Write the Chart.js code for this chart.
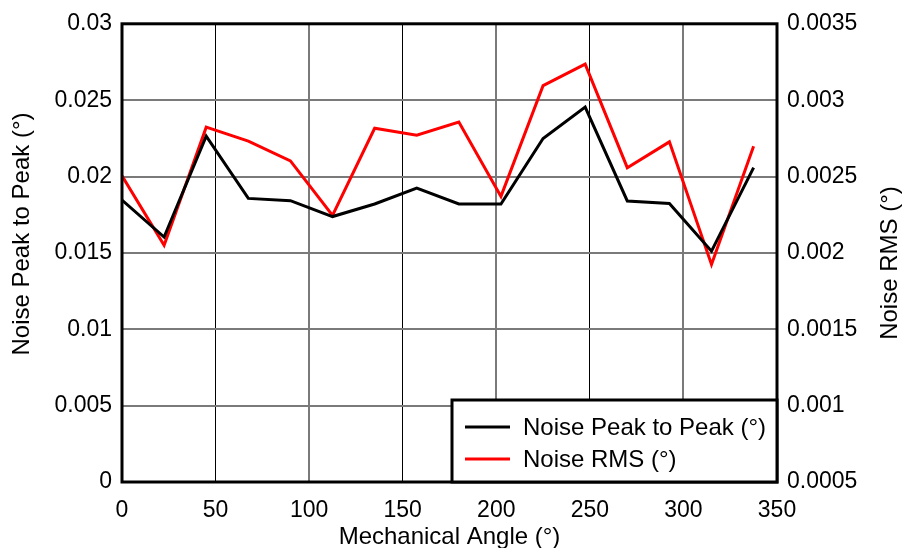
<!DOCTYPE html>
<html>
<head>
<meta charset="utf-8">
<script src="https://cdn.jsdelivr.net/npm/chart.js@4"></script>
<style>
  html, body { margin: 0; padding: 0; background: #fff; }
  #wrap { width: 904px; height: 548px; }
</style>
</head>
<body>
<div id="wrap"><canvas id="noiseChart" width="904" height="548"></canvas></div>
<script>
// Data
const angles = [0, 22.5, 45, 67.5, 90, 112.5, 135, 157.5, 180, 202.5, 225, 247.5, 270, 292.5, 315, 337.5];
const peakToPeak = [0.01846, 0.01604, 0.02264, 0.01857, 0.01842, 0.01738, 0.0182, 0.01924, 0.0182, 0.0182, 0.02249, 0.02455, 0.0184, 0.01823, 0.01511, 0.02058];
const rms = [0.002505, 0.00205, 0.002823, 0.002732, 0.002602, 0.002245, 0.002816, 0.002771, 0.002857, 0.00237, 0.003095, 0.003236, 0.002558, 0.002727, 0.001924, 0.002699];

const seriesLabels = ['Noise Peak to Peak (°)', 'Noise RMS (°)'];
const xTitle = 'Mechanical Angle (°)';
const yLeftTitle = 'Noise Peak to Peak (°)';
const yRightTitle = 'Noise RMS (°)';

const FONT = 'Arial, "Liberation Sans", sans-serif';
const TICK_FONT = { family: FONT, size: 23 };
const TITLE_FONT = { family: FONT, size: 24 };

function fmt(v) {
    return String(parseFloat(Number(v).toFixed(6)));
}

// Thick frame around plot area, legend box inside it, and both y titles (read bottom-to-top)
const framePlugin = {
    id: 'frame',
    afterDatasetsDraw(chart) {
        const ctx = chart.ctx;
        const a = chart.chartArea;
        ctx.save();
        ctx.strokeStyle = '#000';
        ctx.lineWidth = 3;
        ctx.strokeRect(a.left, a.top, a.right - a.left, a.bottom - a.top);

        // legend
        const bx = 452, by = 400, bw = a.right - 452, bh = a.bottom - 400;
        ctx.fillStyle = '#fff';
        ctx.fillRect(bx, by, bw, bh);
        ctx.lineWidth = 3;
        ctx.strokeRect(bx, by, bw, bh);
        ctx.font = '24px ' + FONT;
        ctx.textBaseline = 'middle';
        chart.data.datasets.forEach((ds, i) => {
            const y = 427 + i * 32;
            ctx.strokeStyle = ds.borderColor;
            ctx.lineWidth = 3;
            ctx.beginPath();
            ctx.moveTo(465, y);
            ctx.lineTo(510, y);
            ctx.stroke();
            ctx.fillStyle = '#000';
            ctx.fillText(ds.label, 523, y + 1);
        });

        // y axis titles
        ctx.fillStyle = '#000';
        ctx.textAlign = 'center';
        ctx.textBaseline = 'middle';
        [[yLeftTitle, 22, 234], [yRightTitle, 890, 263]].forEach(([t, x, y]) => {
            ctx.save();
            ctx.translate(x, y);
            ctx.rotate(-Math.PI / 2);
            ctx.fillText(t, 0, 0);
            ctx.restore();
        });
        ctx.restore();
    }
};

new Chart(document.getElementById('noiseChart'), {
    type: 'line',
    data: {
        datasets: [{
            label: seriesLabels[0],
            data: angles.map((a, i) => ({ x: a, y: peakToPeak[i] })),
            borderColor: '#000000',
            borderWidth: 3,
            pointRadius: 0,
            tension: 0,
            yAxisID: 'y'
        }, {
            label: seriesLabels[1],
            data: angles.map((a, i) => ({ x: a, y: rms[i] })),
            borderColor: '#ff0000',
            borderWidth: 3,
            pointRadius: 0,
            tension: 0,
            yAxisID: 'y1'
        }]
    },
    options: {
        responsive: false,
        animation: false,
        layout: { padding: { top: 20, left: 0, right: 0, bottom: 0 } },
        plugins: { legend: { display: false }, tooltip: { enabled: false } },
        scales: {
            x: {
                type: 'linear',
                min: 0, max: 350,
                ticks: { stepSize: 50, color: '#000', font: TICK_FONT, padding: 15, maxRotation: 0 },
                grid: {
                    color: c => (c.tick && c.tick.value % 100 === 50) ? '#000' : '#7a7a7a',
                    lineWidth: c => (c.tick && c.tick.value % 100 === 50) ? 1 : 2,
                    drawTicks: false
                },
                border: { display: false },
                title: { display: true, text: xTitle, color: '#000', font: TITLE_FONT, padding: { top: 0, bottom: -4 } },
                afterFit(s) { s.height = 66; }
            },
            y: {
                position: 'left',
                min: 0, max: 0.03,
                ticks: { stepSize: 0.005, color: '#000', font: TICK_FONT, padding: 10, callback: v => fmt(v) },
                grid: { color: '#7a7a7a', lineWidth: 2, drawTicks: false },
                border: { display: false },
                afterFit(s) { s.width = 122; }
            },
            y1: {
                position: 'right',
                min: 0.0005, max: 0.0035,
                ticks: { stepSize: 0.0005, color: '#000', font: TICK_FONT, padding: 10, callback: v => fmt(v) },
                grid: { display: false, drawTicks: false },
                border: { display: false },
                afterFit(s) { s.width = 127; }
            }
        }
    },
    plugins: [framePlugin]
});
</script>
</body>
</html>
